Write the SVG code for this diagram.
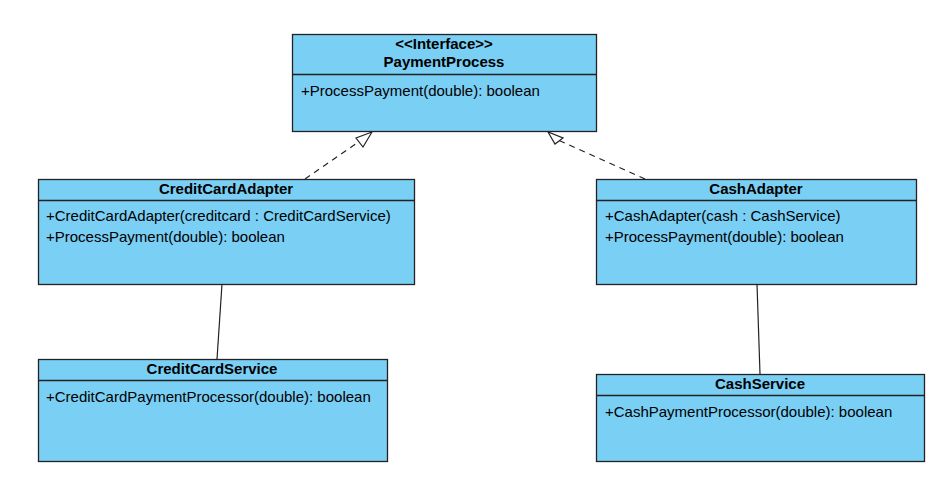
<svg xmlns="http://www.w3.org/2000/svg" width="941" height="503" viewBox="0 0 941 503">
<style>
.box{fill:#7acff5;stroke:#222;stroke-width:1.3}
.div{stroke:#222;stroke-width:1.3}
.t{font-family:"Liberation Sans",Arial,sans-serif;font-size:15px;fill:#000}
.b{font-weight:bold;text-anchor:middle;font-size:15px}
.dash{stroke:#222;stroke-width:1.2;fill:none;stroke-dasharray:6,5}
.line{stroke:#222;stroke-width:1.2;fill:none}
.tri{fill:#fff;stroke:#222;stroke-width:1.2}
</style>
<rect width="941" height="503" fill="#fff"/>
<g id="connectors">
<line class="dash" x1="305" y1="179" x2="360" y2="141"/>
<polygon class="tri" points="372,132 356,138 363,147"/>
<line class="dash" x1="645" y1="179" x2="558" y2="140"/>
<polygon class="tri" points="548,132 555,144 563,138"/>
<line class="line" x1="222" y1="284" x2="217" y2="359"/>
<line class="line" x1="757" y1="284" x2="760" y2="374"/>
</g>
<g id="PaymentProcess">
<rect class="box" x="292.5" y="34.5" width="304" height="97"/>
<line class="div" x1="292.5" y1="74.5" x2="596.5" y2="74.5"/>
<text class="t b" x="444" y="49">&lt;&lt;Interface&gt;&gt;</text>
<text class="t b" x="444" y="67">PaymentProcess</text>
<text class="t" x="301" y="96">+ProcessPayment(double): boolean</text>
</g>
<g id="CreditCardAdapter">
<rect class="box" x="38.5" y="179.5" width="376" height="105"/>
<line class="div" x1="38.5" y1="200.5" x2="414.5" y2="200.5"/>
<text class="t b" x="226" y="194">CreditCardAdapter</text>
<text class="t" x="46" y="221">+CreditCardAdapter(creditcard : CreditCardService)</text>
<text class="t" x="46" y="242">+ProcessPayment(double): boolean</text>
</g>
<g id="CashAdapter">
<rect class="box" x="596.5" y="179.5" width="320" height="105"/>
<line class="div" x1="596.5" y1="200.5" x2="916.5" y2="200.5"/>
<text class="t b" x="756" y="194">CashAdapter</text>
<text class="t" x="605" y="221">+CashAdapter(cash : CashService)</text>
<text class="t" x="605" y="242">+ProcessPayment(double): boolean</text>
</g>
<g id="CreditCardService">
<rect class="box" x="38.5" y="359.5" width="349" height="102"/>
<line class="div" x1="38.5" y1="380.5" x2="387.5" y2="380.5"/>
<text class="t b" x="212" y="374">CreditCardService</text>
<text class="t" x="46" y="402">+CreditCardPaymentProcessor(double): boolean</text>
</g>
<g id="CashService">
<rect class="box" x="596.5" y="374.5" width="328" height="87"/>
<line class="div" x1="596.5" y1="395.5" x2="924.5" y2="395.5"/>
<text class="t b" x="760" y="389">CashService</text>
<text class="t" x="605" y="417">+CashPaymentProcessor(double): boolean</text>
</g>
</svg>
